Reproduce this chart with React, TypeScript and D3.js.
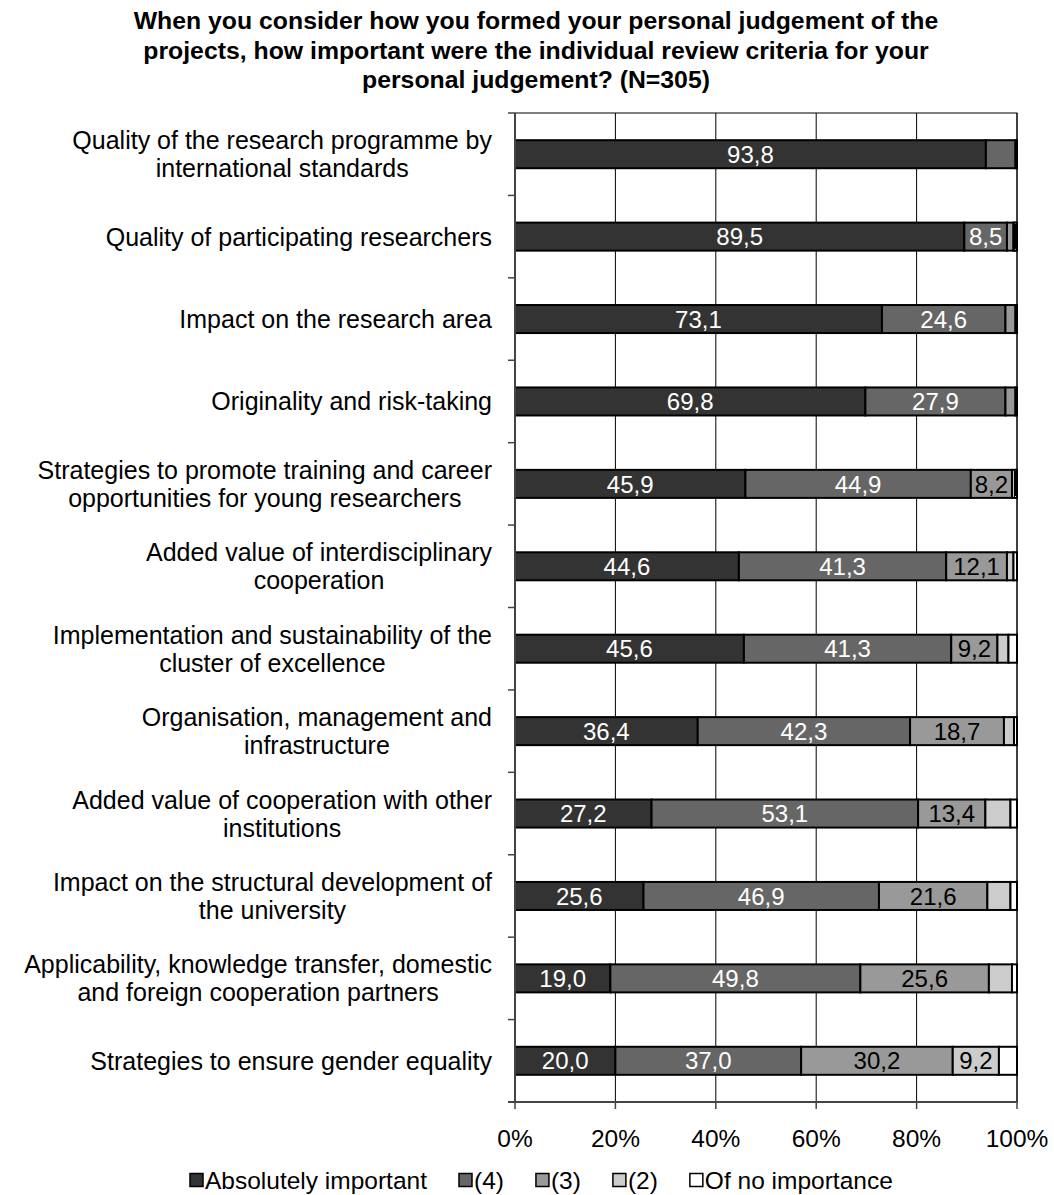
import React, { useRef, useEffect } from "react";
import * as d3 from "d3";

// chart data (percent of respondents, N=305)
const categories = [
  ["Quality of the research programme by", "international standards"],
  ["Quality of participating researchers"],
  ["Impact on the research area"],
  ["Originality and risk-taking"],
  ["Strategies to promote training and career", "opportunities for young researchers"],
  ["Added value of interdisciplinary", "cooperation"],
  ["Implementation and sustainability of the", "cluster of excellence"],
  ["Organisation, management and", "infrastructure"],
  ["Added value of cooperation with other", "institutions"],
  ["Impact on the structural development of", "the university"],
  ["Applicability, knowledge transfer, domestic", "and foreign cooperation partners"],
  ["Strategies to ensure gender equality"],
];

const seriesNames = ["Absolutely important", "(4)", "(3)", "(2)", "Of no importance"];

const absolutelyImportant = [93.8, 89.5, 73.1, 69.8, 45.9, 44.6, 45.6, 36.4, 27.2, 25.6, 19.0, 20.0];
const level4 = [5.9, 8.5, 24.6, 27.9, 44.9, 41.3, 41.3, 42.3, 53.1, 46.9, 49.8, 37.0];
const level3 = [0.3, 1.3, 2.0, 2.0, 8.2, 12.1, 9.2, 18.7, 13.4, 21.6, 25.6, 30.2];
const level2 = [0.0, 0.3, 0.3, 0.3, 0.6, 1.3, 2.2, 2.0, 5.0, 4.6, 4.6, 9.2];
const noImportance = [0.0, 0.4, 0.0, 0.0, 0.4, 0.7, 1.7, 0.6, 1.3, 1.3, 1.0, 3.6];

const xTicks = [0, 20, 40, 60, 80, 100];

const titleLines = [
  "When you consider how you formed your personal judgement of the",
  "projects, how important were the individual review criteria for your",
  "personal judgement? (N=305)",
];

const colors = ["#333333", "#666666", "#999999", "#cccccc", "#ffffff"];
const labelColors = ["#ffffff", "#ffffff", "#000000", "#000000", "#000000"];

const App = () => {
  const container = useRef(null);

  const width = 1054;
  const height = 1195;
  const margin = { top: 113, left: 515, right: 37, bottom: 93 };
  const font = "'Liberation Sans', Arial, sans-serif";

  useEffect(() => {
    const svg = d3.select(container.current);
    svg.selectAll("*").remove();

    const values = [absolutelyImportant, level4, level3, level2, noImportance];
    const rows = categories.map((c, i) => {
      const row = { idx: i };
      seriesNames.forEach((s, k) => (row[s] = values[k][i]));
      return row;
    });
    const stacked = d3.stack().keys(seriesNames)(rows);

    const xScale = d3
      .scaleLinear()
      .domain([0, 100])
      .range([margin.left, width - margin.right]);

    const yScale = d3
      .scaleBand()
      .domain(categories.map((d, i) => i))
      .range([margin.top, height - margin.bottom])
      .paddingInner(0.66)
      .paddingOuter(0.33);

    const bandStep = yScale.step();
    const bandTop = (i) => margin.top + i * bandStep;

    // title
    svg
      .append("g")
      .selectAll("text")
      .data(titleLines)
      .enter()
      .append("text")
      .attr("x", 536)
      .attr("y", (d, i) => 29 + i * 29.5)
      .attr("text-anchor", "middle")
      .style("font-family", font)
      .style("font-weight", "bold")
      .style("font-size", "24.8px")
      .text((d) => d);

    // plot border + gridlines
    svg
      .append("rect")
      .attr("x", xScale(0))
      .attr("y", margin.top)
      .attr("width", xScale(100) - xScale(0))
      .attr("height", height - margin.bottom - margin.top)
      .attr("fill", "none")
      .attr("stroke", "#000")
      .attr("stroke-width", 1);

    svg
      .append("g")
      .selectAll("line")
      .data(xTicks.slice(1))
      .enter()
      .append("line")
      .attr("x1", (d) => xScale(d))
      .attr("x2", (d) => xScale(d))
      .attr("y1", margin.top)
      .attr("y2", height - margin.bottom)
      .attr("stroke", "#000")
      .attr("stroke-width", 1);

    // bars
    const groups = svg
      .append("g")
      .selectAll("g")
      .data(stacked)
      .enter()
      .append("g")
      .attr("fill", (d, k) => colors[k]);

    groups
      .selectAll("rect")
      .data((d) => d.filter((p) => p[1] - p[0] > 0))
      .enter()
      .append("rect")
      .attr("x", (d) => xScale(d[0]))
      .attr("y", (d) => yScale(d.data.idx))
      .attr("width", (d) => xScale(d[1]) - xScale(d[0]))
      .attr("height", yScale.bandwidth())
      .attr("stroke", "#000")
      .attr("stroke-width", 2);

    // bar labels
    stacked.forEach((layer, k) => {
      svg
        .append("g")
        .selectAll("text")
        .data(layer.filter((p) => p[1] - p[0] >= 8))
        .enter()
        .append("text")
        .attr("x", (d) => (xScale(d[0]) + xScale(d[1])) / 2)
        .attr("y", (d) => yScale(d.data.idx) + yScale.bandwidth() / 2)
        .attr("dy", "0.36em")
        .attr("text-anchor", "middle")
        .style("font-family", font)
        .style("font-size", "24px")
        .style("fill", labelColors[k])
        .text((d) => d3.format(".1f")(d[1] - d[0]).replace(".", ","));
    });

    // y axis line + ticks
    svg
      .append("line")
      .attr("x1", xScale(0))
      .attr("x2", xScale(0))
      .attr("y1", margin.top)
      .attr("y2", height - margin.bottom)
      .attr("stroke", "#444")
      .attr("stroke-width", 2);

    svg
      .append("g")
      .selectAll("line")
      .data(d3.range(categories.length + 1))
      .enter()
      .append("line")
      .attr("x1", xScale(0) - 7)
      .attr("x2", xScale(0))
      .attr("y1", (d) => bandTop(d))
      .attr("y2", (d) => bandTop(d))
      .attr("stroke", "#444")
      .attr("stroke-width", 1.5);

    // category labels: right aligned block, lines centred
    const labelRight = xScale(0) - 23;
    const lineGap = 28;
    categories.forEach((lines, i) => {
      const g = svg.append("g");
      const texts = lines.map((ln, j) =>
        g
          .append("text")
          .attr("y", bandTop(i) + bandStep / 2 + (j - (lines.length - 1) / 2) * lineGap)
          .attr("dy", "0.36em")
          .attr("text-anchor", "middle")
          .style("font-family", font)
          .style("font-size", "25px")
          .text(ln)
      );
      const maxW = d3.max(texts, (t) => t.node().getComputedTextLength());
      texts.forEach((t) => t.attr("x", labelRight - maxW / 2));
    });

    // x axis
    const xAxisY = height - margin.bottom;
    svg
      .append("line")
      .attr("x1", xScale(0) - 7)
      .attr("x2", xScale(100))
      .attr("y1", xAxisY)
      .attr("y2", xAxisY)
      .attr("stroke", "#444")
      .attr("stroke-width", 2);

    svg
      .append("g")
      .selectAll("line")
      .data(xTicks)
      .enter()
      .append("line")
      .attr("x1", (d) => xScale(d))
      .attr("x2", (d) => xScale(d))
      .attr("y1", xAxisY)
      .attr("y2", xAxisY + 7)
      .attr("stroke", "#444")
      .attr("stroke-width", 1.5);

    svg
      .append("g")
      .selectAll("text")
      .data(xTicks)
      .enter()
      .append("text")
      .attr("x", (d) => xScale(d))
      .attr("y", xAxisY + 45)
      .attr("text-anchor", "middle")
      .style("font-family", font)
      .style("font-size", "24.5px")
      .text((d) => d + "%");

    // legend
    const legend = svg.append("g").attr("transform", `translate(190, ${xAxisY + 78})`);
    let lx = 0;
    seriesNames.forEach((name, k) => {
      legend
        .append("rect")
        .attr("x", lx)
        .attr("y", -6.5)
        .attr("width", 13)
        .attr("height", 13)
        .attr("fill", colors[k])
        .attr("stroke", "#000")
        .attr("stroke-width", 1.5);
      const t = legend
        .append("text")
        .attr("x", lx + 15)
        .attr("y", 0)
        .attr("dy", "0.36em")
        .style("font-family", font)
        .style("font-size", "24.5px")
        .text(name);
      lx += 15 + t.node().getComputedTextLength() + 32;
    });
    // eslint-disable-next-line react-hooks/exhaustive-deps
  }, []);

  return (
    <div style={{ position: "absolute", left: 0, top: 0, width: width, height: height }}>
      <svg ref={container} width={width} height={height} style={{ display: "block", background: "#fff" }} />
    </div>
  );
};

export default App;
